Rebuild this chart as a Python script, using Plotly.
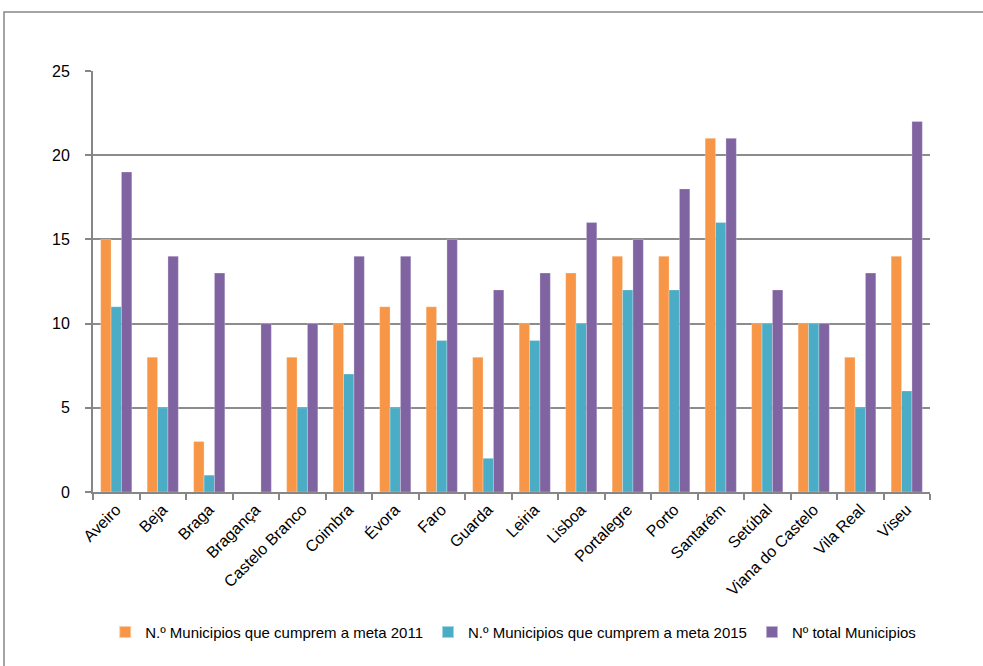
import plotly.graph_objects as go

distritos = ["Aveiro", "Beja", "Braga", "Bragança", "Castelo Branco", "Coimbra",
             "Évora", "Faro", "Guarda", "Leiria", "Lisboa", "Portalegre", "Porto",
             "Santarém", "Setúbal", "Viana do Castelo", "Vila Real", "Viseu"]
meta_2011 = [15, 8, 3, 0, 8, 10, 11, 11, 8, 10, 13, 14, 14, 21, 10, 10, 8, 14]
meta_2015 = [11, 5, 1, 0, 5, 7, 5, 9, 2, 9, 10, 12, 12, 16, 10, 10, 5, 6]
total_municipios = [19, 14, 13, 10, 10, 14, 14, 15, 12, 13, 16, 15, 18, 21, 12, 10, 13, 22]
y_ticks = [0, 5, 10, 15, 20, 25]

series = [
    ("N.º Municipios que cumprem a meta 2011", meta_2011, "#F79646"),
    ("N.º Municipios que cumprem a meta 2015", meta_2015, "#4BACC6"),
    ("Nº total Municipios", total_municipios, "#8064A2"),
]

FONT = "Liberation Sans"

fig = go.Figure()
for nome, valores, cor in series:
    fig.add_trace(go.Bar(
        x=distritos, y=valores, name=nome,
        marker=dict(color=cor, line=dict(color="rgba(255,255,255,0.5)", width=0.5)),
    ))

fig.update_layout(
    width=983, height=666,
    margin=dict(l=93, r=53, t=71, b=174, autoexpand=False),
    paper_bgcolor="white", plot_bgcolor="white",
    barmode="group", bargap=0.33, bargroupgap=0,
    font=dict(family=FONT, size=16, color="black"),
    showlegend=True,
    legend=dict(orientation="h", x=0.502, xanchor="center", y=-0.333, yanchor="middle",
                font=dict(family=FONT, size=15), itemwidth=30, tracegroupgap=0,
                itemsizing="constant"),
    xaxis=dict(
        showline=True, linecolor="#868686", linewidth=2, automargin=False,
        ticks="outside", tickson="boundaries", ticklen=6, tickcolor="#868686", tickwidth=2,
        tickangle=-45, tickfont=dict(family=FONT, size=16),
        showgrid=False,
    ),
    yaxis=dict(
        range=[0, 25], tickvals=y_ticks, automargin=False,
        showline=True, linecolor="#868686", linewidth=2,
        ticks="outside", ticklen=6, tickcolor="#868686", tickwidth=2,
        ticklabelstandoff=12,
        showgrid=True, gridcolor="#8c8c8c", gridwidth=2,
        zeroline=False, tickfont=dict(family=FONT, size=16),
    ),
)

# outer chart-area frame
fig.add_shape(type="rect", xref="paper", yref="paper",
              x0=-89 / 837, x1=1.2, y0=-1.0, y1=(492 - 12) / 421,
              line=dict(color="#868686", width=1.5), fillcolor="rgba(0,0,0,0)", layer="below")

fig.write_html("out.html")
